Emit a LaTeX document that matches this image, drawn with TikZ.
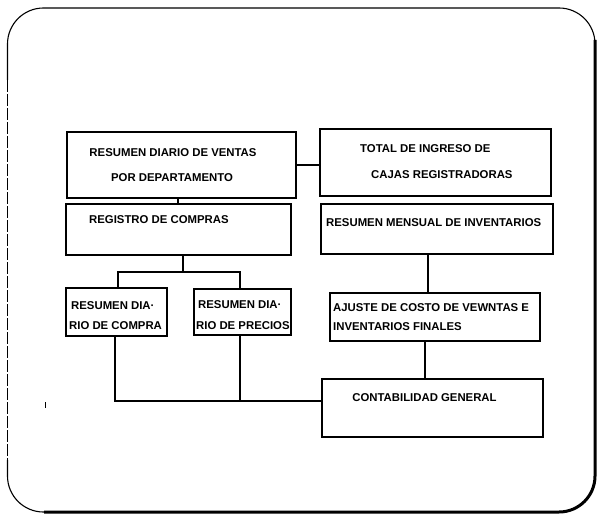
\documentclass[tikz,border=0pt]{standalone}
\usepackage{fontspec}
\setmainfont{Liberation Sans}
\usetikzlibrary{calc}
\begin{document}
\begin{tikzpicture}[x=1bp,y=-1bp,
  box/.style={draw, line width=1.6bp, rectangle, inner sep=0pt},
  lbl/.style={inner sep=0pt, font=\fontsize{11.4}{13}\selectfont\bfseries},
  conn/.style={line width=1.5bp},
  framethin/.style={line width=1.1bp, rounded corners=36bp}]
\useasboundingbox (0,0) rectangle (599,519);
% frame
\draw[framethin] (7.5,80) -- (7.5,8) -- (595,8) -- (595,60);
\draw[line width=1.2bp, dash pattern=on 12bp off 2bp] (7.5,80) -- (7.5,470);
\draw[framethin] (7.5,460) -- (7.5,512) -- (70,512);
\draw[line width=3bp, rounded corners=36bp] (595,40) -- (595,512) -- (44,512);
% boxes
\node[box, minimum width=229bp, minimum height=66bp] (A) at (181.5,165) {};
\node[box, minimum width=231bp, minimum height=67bp] (B) at (435.5,162.5) {};
\node[box, minimum width=225bp, minimum height=51bp] (C) at (178.5,229.5) {};
\node[box, minimum width=232bp, minimum height=50bp] (D) at (437,229) {};
\node[box, minimum width=210bp, minimum height=48bp] (E) at (435,317) {};
\node[box, minimum width=101bp, minimum height=48bp] (D1) at (116.5,312) {};
\node[box, minimum width=97bp, minimum height=46bp] (D2) at (242.5,312) {};
\node[box, minimum width=221bp, minimum height=58bp] (G) at (432.5,408) {};
% texts
\node[lbl] (tA1) at (173,153) {RESUMEN DIARIO DE VENTAS};
\node[lbl] (tA2) at (172,178) {POR DEPARTAMENTO};
\node[lbl, anchor=west] (tB1) at (360,149) {TOTAL DE INGRESO DE};
\node[lbl, anchor=west] (tB2) at (371,175) {CAJAS REGISTRADORAS};
\node[lbl, anchor=west] (tC) at (89,220) {REGISTRO DE COMPRAS};
\node[lbl, anchor=west] (tD) at (326,223) {RESUMEN MENSUAL DE INVENTARIOS};
\node[lbl, anchor=west] (tE1) at (333,308) {AJUSTE DE COSTO DE VEWNTAS E};
\node[lbl, anchor=west] (tE2) at (333,327) {INVENTARIOS FINALES};
\node[lbl, anchor=west] (tD11) at (71,306) {RESUMEN DIA·};
\node[lbl, anchor=west] (tD12) at (69,326) {RIO DE COMPRA};
\node[lbl, anchor=west] (tD21) at (198,305) {RESUMEN DIA·};
\node[lbl, anchor=west] (tD22) at (196,326) {RIO DE PRECIOS};
\node[lbl] (tG) at (424.5,398) {CONTABILIDAD GENERAL};
% connectors
\coordinate (xa) at (178,0);
\coordinate (br) at (183,272);
\coordinate (bl) at (118,272);
\coordinate (brr) at (240,272);
\coordinate (xd) at (428,0);
\coordinate (xe) at (425,0);
\coordinate (jl) at (115,401);
\coordinate (jm) at (240,401);
\draw[conn] (A.east) -- (A.east -| B.west);
\draw[conn] (A.south -| xa) -- (C.north -| xa);
\draw[conn] (C.south -| br) -- (br);
\draw[conn] (D1.north -| bl) -- (bl) -- (brr) -- (D2.north -| brr);
\draw[conn] (D.south -| xd) -- (E.north -| xd);
\draw[conn] (E.south -| xe) -- (G.north -| xe);
\draw[conn] (D1.south -| jl) -- (jl) -- (jl -| G.west);
\draw[conn] (D2.south -| jm) -- (jm);
\draw[line width=1bp] (45,402) -- (45,408);
\end{tikzpicture}
\end{document}
